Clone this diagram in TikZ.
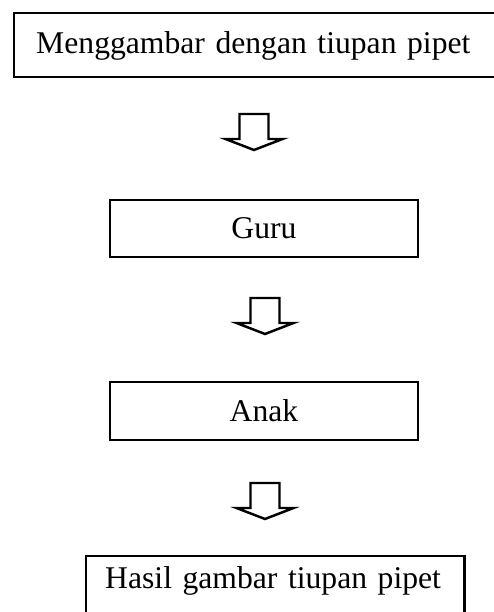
\documentclass[tikz,border=0pt]{standalone}
\usepackage{fontspec}
\setmainfont{Liberation Serif}

\tikzset{
    kotak/.style={draw,line width=0.7pt,inner sep=0pt},
    panah/.pic={
        \draw[line width=0.7pt,line join=miter]
            (-14.5,0) -- (-14.5,25) -- (-28.5,25) -- (0,36) -- (28.5,25) -- (14.5,25) -- (14.5,0) -- cycle
        ;
    }
}

\begin{document}
\begin{tikzpicture}[x=0.01cm,y=-0.01cm]
    \fontsize{9}{11}\selectfont
    \useasboundingbox (0,0) rectangle (494,612);

    \node[kotak,anchor=north west,align=left,text width=4.6cm,inner xsep=0.22cm,
          inner ysep=0.18cm,text height=0.22cm,text depth=0.06cm]
        (menggambar) at (13,12) {Menggambar dengan tiupan pipet};

    \node[kotak,minimum width=3.08cm,minimum height=0.57cm] (guru) at (264,228.5) {Guru};
    \node[kotak,minimum width=3.08cm,minimum height=0.58cm] (anak) at (264,411) {Anak};

    \node[kotak,anchor=north west,align=left,text width=3.4cm,inner xsep=0.19cm,
          inner ysep=0.1cm,text height=0.22cm,text depth=0.6cm]
        (hasil) at (85,555) {Hasil gambar tiupan pipet};

    \pic (panah1) at (254,114) {panah};
    \pic (panah2) at (265,298) {panah};
    \pic (panah3) at (265,483) {panah};
\end{tikzpicture}
\end{document}
